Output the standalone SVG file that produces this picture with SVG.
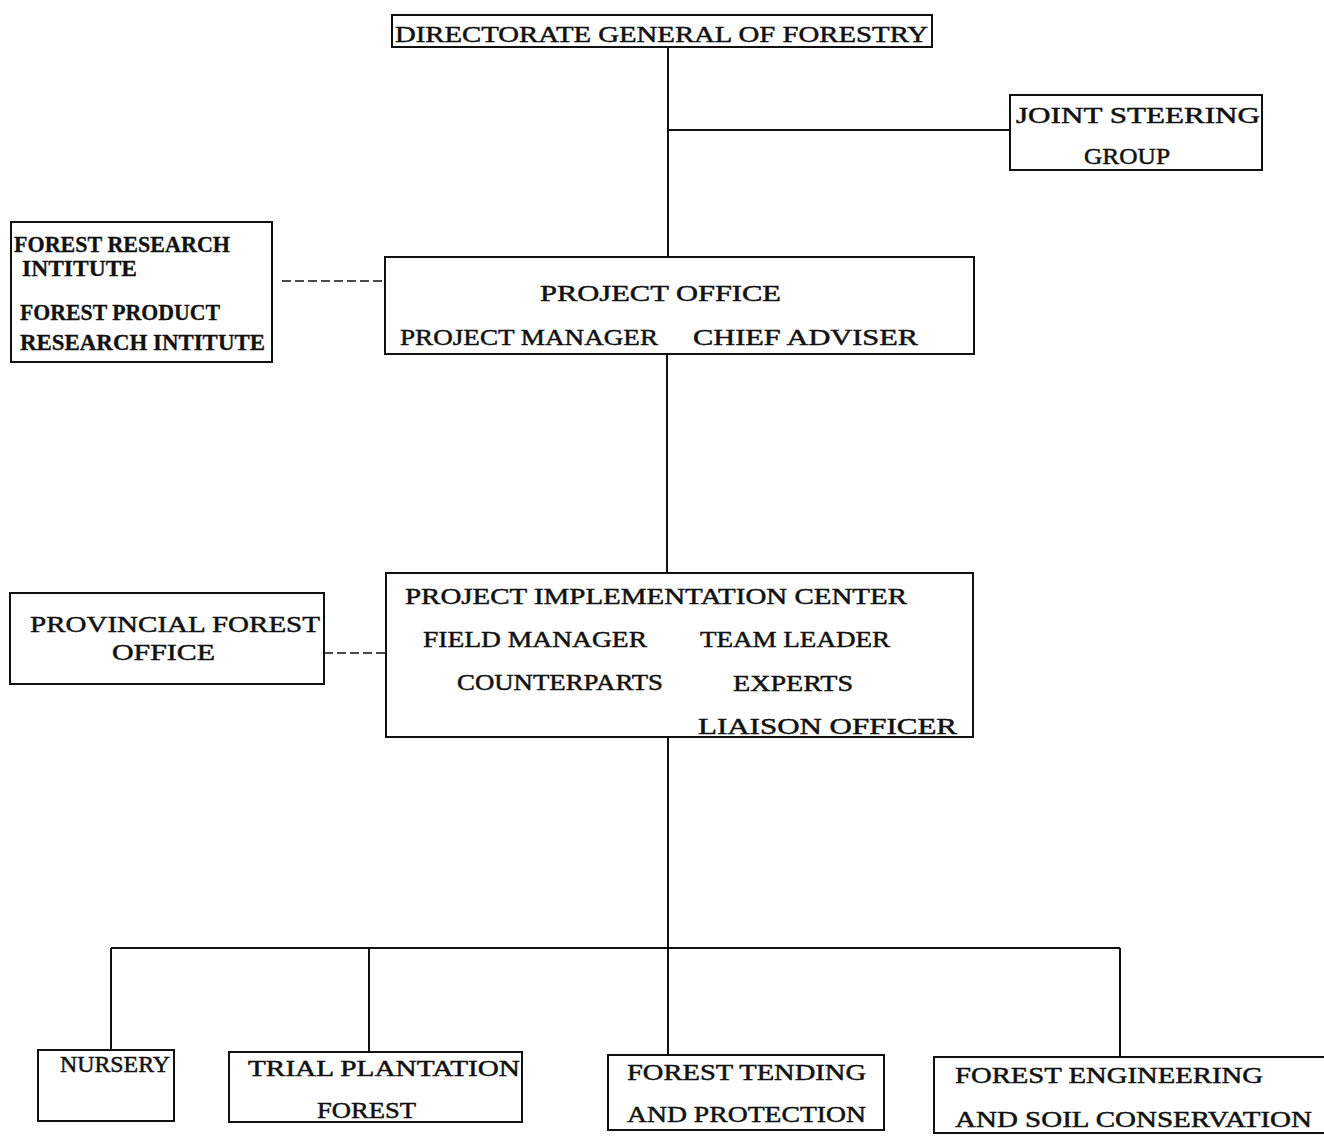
<svg xmlns="http://www.w3.org/2000/svg" width="1324" height="1141" viewBox="0 0 1324 1141">
<style>
.box{fill:none;stroke:#111;stroke-width:2}
.ln{fill:none;stroke:#111;stroke-width:2}
.dash{fill:none;stroke:#111;stroke-width:1.6;stroke-dasharray:9,4}
text{font-family:"Liberation Serif","Times New Roman",serif;font-size:24px;fill:#111;stroke:#111;stroke-width:0.5}
.c{font-weight:bold;font-size:23px;stroke-width:0.3}
</style>
<rect width="1324" height="1141" fill="#fff"/>
<g id="connectors">
<line class="ln" x1="668" y1="47" x2="668" y2="257"/>
<line class="ln" x1="668" y1="130" x2="1010" y2="130"/>
<line class="dash" x1="282" y1="281" x2="385" y2="281"/>
<line class="ln" x1="667" y1="354" x2="667" y2="573"/>
<line class="dash" x1="324" y1="653" x2="386" y2="653"/>
<line class="ln" x1="668" y1="737" x2="668" y2="948"/>
<line class="ln" x1="111" y1="948" x2="1120" y2="948"/>
<line class="ln" x1="111" y1="948" x2="111" y2="1050"/>
<line class="ln" x1="369" y1="948" x2="369" y2="1052"/>
<line class="ln" x1="668" y1="948" x2="668" y2="1055"/>
<line class="ln" x1="1120" y1="948" x2="1120" y2="1057"/>
</g>
<g id="directorate">
<rect class="box" x="392" y="15" width="540" height="32"/>
<text x="395" y="42" textLength="533" lengthAdjust="spacingAndGlyphs">DIRECTORATE GENERAL OF FORESTRY</text>
</g>
<g id="joint-steering">
<rect class="box" x="1010" y="95" width="252" height="75"/>
<text x="1016" y="123" textLength="244" lengthAdjust="spacingAndGlyphs">JOINT STEERING</text>
<text x="1084" y="164" textLength="86" lengthAdjust="spacingAndGlyphs">GROUP</text>
</g>
<g id="research">
<rect class="box" x="11" y="222" width="261" height="140"/>
<text class="c" x="14" y="252" textLength="216" lengthAdjust="spacingAndGlyphs">FOREST RESEARCH</text>
<text class="c" x="22" y="276" textLength="115" lengthAdjust="spacingAndGlyphs">INTITUTE</text>
<text class="c" x="20" y="320" textLength="200" lengthAdjust="spacingAndGlyphs">FOREST PRODUCT</text>
<text class="c" x="20" y="350" textLength="245" lengthAdjust="spacingAndGlyphs">RESEARCH INTITUTE</text>
</g>
<g id="project-office">
<rect class="box" x="385" y="257" width="589" height="97"/>
<text x="540" y="301" textLength="241" lengthAdjust="spacingAndGlyphs">PROJECT OFFICE</text>
<text x="400" y="345" textLength="258" lengthAdjust="spacingAndGlyphs">PROJECT MANAGER</text>
<text x="693" y="345" textLength="225" lengthAdjust="spacingAndGlyphs">CHIEF ADVISER</text>
</g>
<g id="provincial">
<rect class="box" x="10" y="593" width="314" height="91"/>
<text x="30" y="632" textLength="290" lengthAdjust="spacingAndGlyphs">PROVINCIAL FOREST</text>
<text x="112" y="660" textLength="103" lengthAdjust="spacingAndGlyphs">OFFICE</text>
</g>
<g id="pic">
<rect class="box" x="386" y="573" width="587" height="164"/>
<text x="405" y="604" textLength="502" lengthAdjust="spacingAndGlyphs">PROJECT IMPLEMENTATION CENTER</text>
<text x="423" y="647" textLength="224" lengthAdjust="spacingAndGlyphs">FIELD MANAGER</text>
<text x="700" y="647" textLength="190" lengthAdjust="spacingAndGlyphs">TEAM LEADER</text>
<text x="457" y="690" textLength="206" lengthAdjust="spacingAndGlyphs">COUNTERPARTS</text>
<text x="733" y="691" textLength="120" lengthAdjust="spacingAndGlyphs">EXPERTS</text>
<text x="698" y="734" textLength="259" lengthAdjust="spacingAndGlyphs">LIAISON OFFICER</text>
</g>
<g id="nursery">
<rect class="box" x="38" y="1050" width="136" height="71"/>
<text x="60" y="1072" textLength="110" lengthAdjust="spacingAndGlyphs">NURSERY</text>
</g>
<g id="trial">
<rect class="box" x="229" y="1052" width="293" height="70"/>
<text x="248" y="1076" textLength="272" lengthAdjust="spacingAndGlyphs">TRIAL PLANTATION</text>
<text x="317" y="1118" textLength="99" lengthAdjust="spacingAndGlyphs">FOREST</text>
</g>
<g id="tending">
<rect class="box" x="608" y="1055" width="276" height="75"/>
<text x="627" y="1080" textLength="239" lengthAdjust="spacingAndGlyphs">FOREST TENDING</text>
<text x="627" y="1122" textLength="239" lengthAdjust="spacingAndGlyphs">AND PROTECTION</text>
</g>
<g id="engineering">
<path class="box" d="M1324 1057 H934 V1133 H1324"/>
<text x="955" y="1083" textLength="308" lengthAdjust="spacingAndGlyphs">FOREST ENGINEERING</text>
<text x="955" y="1127" textLength="357" lengthAdjust="spacingAndGlyphs">AND SOIL CONSERVATION</text>
</g>
</svg>
